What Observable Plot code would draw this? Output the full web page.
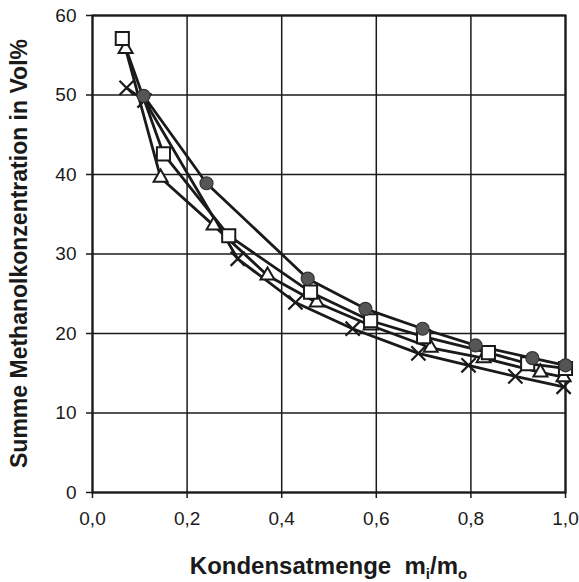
<!DOCTYPE html>
<html>
<head>
<meta charset="utf-8">
<script src="https://cdn.jsdelivr.net/npm/d3@7"></script>
<script src="https://cdn.jsdelivr.net/npm/@observablehq/plot@0.6"></script>
<style>
  html, body { margin: 0; padding: 0; background: #fff; }
  #chart svg { display: block; }
</style>
</head>
<body>
<div id="chart"></div>
<script>
// Tick values
const xTicks = [0, 0.2, 0.4, 0.6, 0.8, 1.0];
const yTicks = [0, 10, 20, 30, 40, 50, 60];

// Series: filled markers
const filledX = [0.108, 0.241, 0.455, 0.577, 0.698, 0.810, 0.930, 1.0];
const filledY = [49.9, 38.9, 26.9, 23.1, 20.6, 18.5, 16.9, 16.0];
// Series: open squares
const squareX = [0.063, 0.150, 0.288, 0.461, 0.588, 0.700, 0.837, 0.920, 1.0];
const squareY = [57.1, 42.6, 32.3, 25.2, 21.6, 19.6, 17.6, 16.2, 15.6];
// Series: open triangles
const triX = [0.070, 0.144, 0.256, 0.370, 0.474, 0.588, 0.715, 0.827, 0.947, 0.996];
const triY = [55.8, 39.6, 33.6, 27.3, 23.9, 21.0, 18.2, 16.9, 15.1, 14.5];
// Series: crosses
const crossX = [0.072, 0.110, 0.307, 0.429, 0.550, 0.689, 0.795, 0.894, 0.996];
const crossY = [50.9, 49.3, 29.4, 23.9, 20.6, 17.5, 16.0, 14.6, 13.3];

const xLabelMain = "Kondensatmenge";
const yLabel = "Summe Methanolkonzentration in Vol%";

const toRows = (xs, ys) => xs.map((x, i) => ({x, y: ys[i]}));
const filled = toRows(filledX, filledY);
const squares = toRows(squareX, squareY);
const tris = toRows(triX, triY);
const crosses = toRows(crossX, crossY);

const ink = "#1a1a1a";

const chart = Plot.plot({
  width: 579,
  height: 582,
  marginLeft: 92,
  marginRight: 14,
  marginTop: 15,
  marginBottom: 90,
  style: {fontFamily: "'Liberation Sans', Arial, sans-serif", fontSize: "19px", color: ink, background: "#fff"},
  x: {domain: [0, 1]},
  y: {domain: [0, 60]},
  marks: [
    Plot.gridX(xTicks, {stroke: ink, strokeOpacity: 1, strokeWidth: 1.5}),
    Plot.gridY(yTicks, {stroke: ink, strokeOpacity: 1, strokeWidth: 1.5}),
    Plot.frame({stroke: ink, strokeWidth: 2.2}),
    Plot.axisX({ticks: xTicks, tickSize: 6, tickPadding: 13, label: null,
                tickFormat: d => d.toFixed(1).replace(".", ","), stroke: ink, strokeWidth: 1.5}),
    Plot.axisY({ticks: yTicks, tickSize: 6, tickPadding: 10, label: null,
                tickFormat: d => String(d), stroke: ink, strokeWidth: 1.5}),
    Plot.line(crosses, {x: "x", y: "y", stroke: ink, strokeWidth: 2.8}),
    Plot.line(tris, {x: "x", y: "y", stroke: ink, strokeWidth: 2.8}),
    Plot.line(squares, {x: "x", y: "y", stroke: ink, strokeWidth: 2.8}),
    Plot.line(filled, {x: "x", y: "y", stroke: ink, strokeWidth: 2.8}),
    Plot.dot(crosses, {x: "x", y: "y", symbol: "times", r: 6.5, stroke: ink, strokeWidth: 2.2}),
    Plot.dot(tris, {x: "x", y: "y", symbol: "triangle", r: 5.2, fill: "#fff", stroke: ink, strokeWidth: 2}),
    Plot.dot(squares, {x: "x", y: "y", symbol: "square", r: 7.4, fill: "#fff", stroke: ink, strokeWidth: 2}),
    Plot.dot(filled, {x: "x", y: "y", symbol: "circle", r: 6.5, fill: "#555", stroke: "#333", strokeWidth: 1.2})
  ]
});

document.getElementById("chart").appendChild(chart);

// Axis titles, positioned from the plot's own scales
const sx = chart.scale("x"), sy = chart.scale("y");
const cx = (sx.range[0] + sx.range[1]) / 2;
const cy = (sy.range[0] + sy.range[1]) / 2;
const svg = d3.select(chart);

const xl = svg.append("text")
  .attr("x", cx).attr("y", 574)
  .attr("text-anchor", "middle")
  .attr("font-family", "'Liberation Sans', Arial, sans-serif")
  .attr("font-weight", "bold").attr("font-size", 24).attr("fill", ink)
  .attr("xml:space", "preserve");
xl.append("tspan").text(xLabelMain + "  m");
xl.append("tspan").attr("font-size", 15).attr("dy", 5).text("i");
xl.append("tspan").attr("dy", -5).text("/m");
xl.append("tspan").attr("font-size", 15).attr("dy", 5).text("o");

svg.append("text")
  .attr("transform", `translate(27,${cy}) rotate(-90)`)
  .attr("text-anchor", "middle")
  .attr("font-family", "'Liberation Sans', Arial, sans-serif")
  .attr("font-weight", "bold").attr("font-size", 23).attr("fill", ink)
  .text(yLabel);
</script>
</body>
</html>
